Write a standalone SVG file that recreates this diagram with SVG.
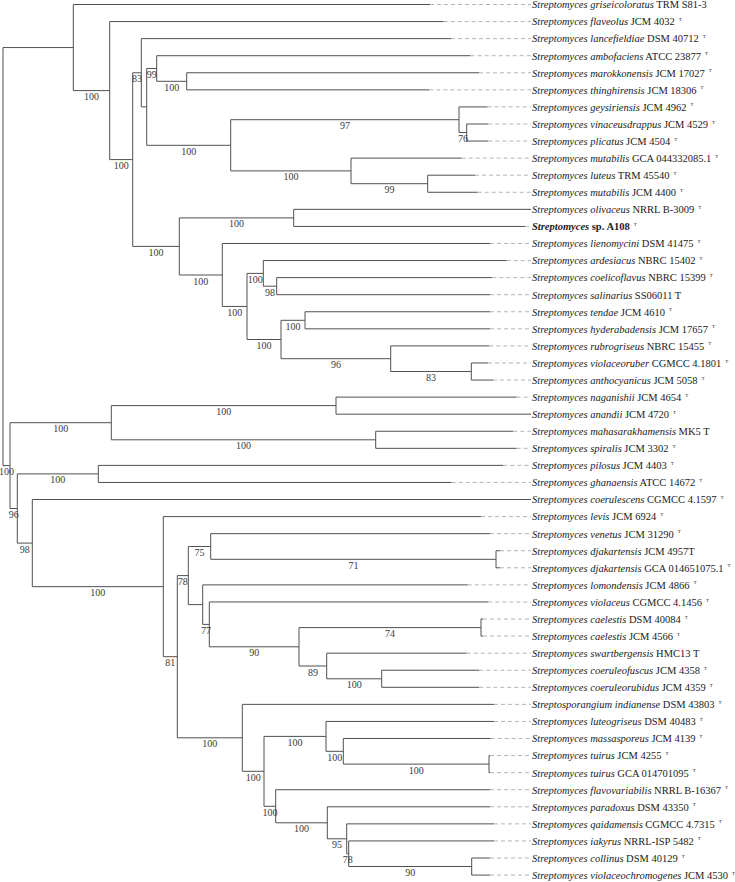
<svg xmlns="http://www.w3.org/2000/svg" width="735" height="882" viewBox="0 0 735 882">
<style>
.br{fill:none;stroke:#505050;stroke-width:1}
.dl{fill:none;stroke:#b4b4b4;stroke-width:1;stroke-dasharray:4 3}
.lf{font-family:"Liberation Serif","Times New Roman",serif;font-size:10.5px;fill:#1a1a1a}
.i{font-style:italic}
.b{font-weight:bold}
.sup{font-size:5px}
.bs{font-family:"Liberation Serif","Times New Roman",serif;font-size:10px;fill:#3a3a3a;text-anchor:middle}
</style>
<rect width="735" height="882" fill="#fff"/>
<g id="connectors">
<path class="br" d="M3,47.55V465.6M3,47.55H73.3M3,465.6H10"/>
<path class="br" d="M73.3,4.5V90.6M73.3,4.5H430M73.3,90.6H109.7"/>
<path class="br" d="M109.7,21.57V159.6M109.7,21.57H443.7M109.7,159.6H132.7"/>
<path class="br" d="M132.7,72.8V246.4H179.3M132.7,72.8H141.3"/>
<path class="br" d="M141.3,38.64V106.9M141.3,38.64H451M141.3,106.9H146.7"/>
<path class="br" d="M146.7,68.5V145.3M146.7,68.5H156.7M146.7,145.3H230.7"/>
<path class="br" d="M156.7,55.71V81.3M156.7,55.71H470.7M156.7,81.3H186.7"/>
<path class="br" d="M186.7,72.78V89.85M186.7,72.78H479M186.7,89.85H429.3"/>
<path class="br" d="M230.7,119.7V170.9M230.7,119.7H459M230.7,170.9H351"/>
<path class="br" d="M459,106.92V132.5M459,106.92H487.7M459,132.5H466.7"/>
<path class="br" d="M466.7,123.99V141.06M466.7,123.99H488.3M466.7,141.06H488.3"/>
<path class="br" d="M351,158.13V183.7M351,158.13H461.7M351,183.7H427.7"/>
<path class="br" d="M427.7,175.2V192.27M427.7,175.2H475M427.7,192.27H477.7"/>
<path class="br" d="M179.3,217.9V275M179.3,217.9H293.7M179.3,275H222.3"/>
<path class="br" d="M293.7,209.34V226.41M293.7,209.34H531M293.7,226.41H525"/>
<path class="br" d="M222.3,243.48V306.45M222.3,243.48H490M222.3,306.45H247"/>
<path class="br" d="M247,273.4V339.5M247,273.4H263.3M247,339.5H281"/>
<path class="br" d="M263.3,260.55V286.2M263.3,260.55H506.7M263.3,286.2H276.7"/>
<path class="br" d="M276.7,277.62V294.69M276.7,277.62H492.3M276.7,294.69H490"/>
<path class="br" d="M281,320.3V358.7M281,320.3H305M281,358.7H390.7"/>
<path class="br" d="M305,311.76V328.83M305,311.76H490M305,328.83H490"/>
<path class="br" d="M390.7,345.9V371.5M390.7,345.9H489.3M390.7,371.5H471.3"/>
<path class="br" d="M471.3,362.97V380.04M471.3,362.97H488M471.3,380.04H493"/>
<path class="br" d="M10,422.7V508.5M10,422.7H111.3M10,508.5H17.3"/>
<path class="br" d="M111.3,405.6V439.8M111.3,405.6H336M111.3,439.8H375.7"/>
<path class="br" d="M336,397.11V414.18M336,397.11H516.7M336,414.18H531"/>
<path class="br" d="M375.7,431.25V448.32M375.7,431.25H513.3M375.7,448.32H516.7"/>
<path class="br" d="M17.3,473.9V543.1M17.3,473.9H98.3M17.3,543.1H32.3"/>
<path class="br" d="M98.3,465.39V482.46M98.3,465.39H503.3M98.3,482.46H451.7"/>
<path class="br" d="M32.3,499.53V586.65M32.3,499.53H531M32.3,586.65H163.3"/>
<path class="br" d="M163.3,516.6V656.7M163.3,516.6H481M163.3,656.7H177.3"/>
<path class="br" d="M177.3,575.6V737.8M177.3,575.6H188.3M177.3,737.8H242.3"/>
<path class="br" d="M188.3,546.5V604.6M188.3,546.5H210.7M188.3,604.6H202.7"/>
<path class="br" d="M210.7,533.67V559.3M210.7,533.67H490M210.7,559.3H496"/>
<path class="br" d="M496,550.74V567.81M496,550.74H500M496,567.81H500"/>
<path class="br" d="M202.7,584.88V624.4M202.7,584.88H467.7M202.7,624.4H209.3"/>
<path class="br" d="M209.3,601.95V646.8M209.3,601.95H488.3M209.3,646.8H299"/>
<path class="br" d="M299,627.6V666M299,627.6H481M299,666H326.7"/>
<path class="br" d="M481,619.02V636.09M481,619.02H483M481,636.09H483"/>
<path class="br" d="M326.7,653.16V678.8M326.7,653.16H466.7M326.7,678.8H381.7"/>
<path class="br" d="M381.7,670.23V687.3M381.7,670.23H479.3M381.7,687.3H479.3"/>
<path class="br" d="M242.3,704.37V771.3M242.3,704.37H494M242.3,771.3H264"/>
<path class="br" d="M264,736.4V806.3M264,736.4H326M264,806.3H275.7"/>
<path class="br" d="M326,721.44V751.3M326,721.44H494M326,751.3H343.3"/>
<path class="br" d="M343.3,738.51V764.1M343.3,738.51H490.7M343.3,764.1H489"/>
<path class="br" d="M489,755.58V772.65M489,755.58H490M489,772.65H490"/>
<path class="br" d="M275.7,789.72V822.8M275.7,789.72H490M275.7,822.8H327.3"/>
<path class="br" d="M327.3,806.79V838.8M327.3,806.79H490M327.3,838.8H346.7"/>
<path class="br" d="M346.7,823.86V853.7M346.7,823.86H494M346.7,853.7H348.7"/>
<path class="br" d="M348.7,840.93V866.5M348.7,840.93H494M348.7,866.5H471.7"/>
<path class="br" d="M471.7,858V875.07M471.7,858H490M471.7,875.07H490"/>
<path class="dl" d="M430,4.5H531M443.7,21.57H531M451,38.64H531M470.7,55.71H531M479,72.78H531M429.3,89.85H531M487.7,106.92H531M488.3,123.99H531M488.3,141.06H531M461.7,158.13H531M475,175.2H531M477.7,192.27H531M525,226.41H531M490,243.48H531M506.7,260.55H531M492.3,277.62H531M490,294.69H531M490,311.76H531M490,328.83H531M489.3,345.9H531M488,362.97H531M493,380.04H531M516.7,397.11H531M513.3,431.25H531M516.7,448.32H531M503.3,465.39H531M451.7,482.46H531M481,516.6H531M490,533.67H531M500,550.74H531M500,567.81H531M467.7,584.88H531M488.3,601.95H531M483,619.02H531M483,636.09H531M466.7,653.16H531M479.3,670.23H531M479.3,687.3H531M494,704.37H531M494,721.44H531M490.7,738.51H531M490,755.58H531M490,772.65H531M490,789.72H531M490,806.79H531M494,823.86H531M494,840.93H531M490,858H531M490,875.07H531"/>
</g>
<g id="support">
<text class="bs" x="91.5" y="100.1">100</text>
<text class="bs" x="121.2" y="169.1">100</text>
<text class="bs" x="137" y="82.3">83</text>
<text class="bs" x="151.7" y="78">99</text>
<text class="bs" x="171.7" y="90.8">100</text>
<text class="bs" x="188.7" y="154.8">100</text>
<text class="bs" x="344.9" y="129.2">97</text>
<text class="bs" x="462.9" y="142">76</text>
<text class="bs" x="290.9" y="180.4">100</text>
<text class="bs" x="389.4" y="193.2">99</text>
<text class="bs" x="156" y="255.9">100</text>
<text class="bs" x="236.5" y="227.4">100</text>
<text class="bs" x="200.8" y="284.5">100</text>
<text class="bs" x="234.7" y="315.9">100</text>
<text class="bs" x="255.2" y="282.9">100</text>
<text class="bs" x="270" y="295.7">98</text>
<text class="bs" x="264" y="349">100</text>
<text class="bs" x="293" y="329.8">100</text>
<text class="bs" x="335.9" y="368.2">96</text>
<text class="bs" x="431" y="381">83</text>
<text class="bs" x="6.5" y="475.1">100</text>
<text class="bs" x="60.7" y="432.2">100</text>
<text class="bs" x="223.7" y="415.1">100</text>
<text class="bs" x="243.5" y="449.3">100</text>
<text class="bs" x="13.7" y="518">96</text>
<text class="bs" x="57.8" y="483.4">100</text>
<text class="bs" x="24.8" y="552.6">98</text>
<text class="bs" x="97.8" y="596.2">100</text>
<text class="bs" x="170.3" y="666.2">81</text>
<text class="bs" x="182.8" y="585.1">78</text>
<text class="bs" x="199.5" y="556">75</text>
<text class="bs" x="353.4" y="568.8">71</text>
<text class="bs" x="206" y="633.9">77</text>
<text class="bs" x="254.2" y="656.3">90</text>
<text class="bs" x="390" y="637.1">74</text>
<text class="bs" x="312.9" y="675.5">89</text>
<text class="bs" x="354.2" y="688.3">100</text>
<text class="bs" x="209.8" y="747.3">100</text>
<text class="bs" x="253.2" y="780.8">100</text>
<text class="bs" x="295" y="745.9">100</text>
<text class="bs" x="334.7" y="760.8">100</text>
<text class="bs" x="416.2" y="773.6">100</text>
<text class="bs" x="269.9" y="815.8">100</text>
<text class="bs" x="301.5" y="832.3">100</text>
<text class="bs" x="337" y="848.3">95</text>
<text class="bs" x="347.7" y="863.2">78</text>
<text class="bs" x="410.2" y="876">90</text>
</g>
<g id="leaf1"><text class="lf" x="532" y="8.3"><tspan class="i">Streptomyces griseicoloratus</tspan> TRM S81-3</text></g>
<g id="leaf2"><text class="lf" x="532" y="25.4"><tspan class="i">Streptomyces flaveolus</tspan> JCM 4032<tspan class="sup" dx="4" dy="-4.3">T</tspan></text></g>
<g id="leaf3"><text class="lf" x="532" y="42.4"><tspan class="i">Streptomyces lancefieldiae</tspan> DSM 40712<tspan class="sup" dx="4" dy="-4.3">T</tspan></text></g>
<g id="leaf4"><text class="lf" x="532" y="59.5"><tspan class="i">Streptomyces ambofaciens</tspan> ATCC 23877<tspan class="sup" dx="4" dy="-4.3">T</tspan></text></g>
<g id="leaf5"><text class="lf" x="532" y="76.6"><tspan class="i">Streptomyces marokkonensis</tspan> JCM 17027<tspan class="sup" dx="4" dy="-4.3">T</tspan></text></g>
<g id="leaf6"><text class="lf" x="532" y="93.7"><tspan class="i">Streptomyces thinghirensis</tspan> JCM 18306<tspan class="sup" dx="4" dy="-4.3">T</tspan></text></g>
<g id="leaf7"><text class="lf" x="532" y="110.7"><tspan class="i">Streptomyces geysiriensis</tspan> JCM 4962<tspan class="sup" dx="4" dy="-4.3">T</tspan></text></g>
<g id="leaf8"><text class="lf" x="532" y="127.8"><tspan class="i">Streptomyces vinaceusdrappus</tspan> JCM 4529<tspan class="sup" dx="4" dy="-4.3">T</tspan></text></g>
<g id="leaf9"><text class="lf" x="532" y="144.9"><tspan class="i">Streptomyces plicatus</tspan> JCM 4504<tspan class="sup" dx="4" dy="-4.3">T</tspan></text></g>
<g id="leaf10"><text class="lf" x="532" y="161.9"><tspan class="i">Streptomyces mutabilis</tspan> GCA 044332085.1<tspan class="sup" dx="4" dy="-4.3">T</tspan></text></g>
<g id="leaf11"><text class="lf" x="532" y="179"><tspan class="i">Streptomyces luteus</tspan> TRM 45540<tspan class="sup" dx="4" dy="-4.3">T</tspan></text></g>
<g id="leaf12"><text class="lf" x="532" y="196.1"><tspan class="i">Streptomyces mutabilis</tspan> JCM 4400<tspan class="sup" dx="4" dy="-4.3">T</tspan></text></g>
<g id="leaf13"><text class="lf" x="532" y="213.1"><tspan class="i">Streptomyces olivaceus</tspan> NRRL B-3009<tspan class="sup" dx="4" dy="-4.3">T</tspan></text></g>
<g id="leaf14"><text class="lf b" x="532" y="230.2"><tspan class="i">Streptomyces</tspan> sp. A108<tspan class="sup" dx="4" dy="-4.3" font-weight="normal">T</tspan></text></g>
<g id="leaf15"><text class="lf" x="532" y="247.3"><tspan class="i">Streptomyces lienomycini</tspan> DSM 41475<tspan class="sup" dx="4" dy="-4.3">T</tspan></text></g>
<g id="leaf16"><text class="lf" x="532" y="264.4"><tspan class="i">Streptomyces ardesiacus</tspan> NBRC 15402<tspan class="sup" dx="4" dy="-4.3">T</tspan></text></g>
<g id="leaf17"><text class="lf" x="532" y="281.4"><tspan class="i">Streptomyces coelicoflavus</tspan> NBRC 15399<tspan class="sup" dx="4" dy="-4.3">T</tspan></text></g>
<g id="leaf18"><text class="lf" x="532" y="298.5"><tspan class="i">Streptomyces salinarius</tspan> SS06011 T</text></g>
<g id="leaf19"><text class="lf" x="532" y="315.6"><tspan class="i">Streptomyces tendae</tspan> JCM 4610<tspan class="sup" dx="4" dy="-4.3">T</tspan></text></g>
<g id="leaf20"><text class="lf" x="532" y="332.6"><tspan class="i">Streptomyces hyderabadensis</tspan> JCM 17657<tspan class="sup" dx="4" dy="-4.3">T</tspan></text></g>
<g id="leaf21"><text class="lf" x="532" y="349.7"><tspan class="i">Streptomyces rubrogriseus</tspan> NBRC 15455<tspan class="sup" dx="4" dy="-4.3">T</tspan></text></g>
<g id="leaf22"><text class="lf" x="532" y="366.8"><tspan class="i">Streptomyces violaceoruber</tspan> CGMCC 4.1801<tspan class="sup" dx="4" dy="-4.3">T</tspan></text></g>
<g id="leaf23"><text class="lf" x="532" y="383.8"><tspan class="i">Streptomyces anthocyanicus</tspan> JCM 5058<tspan class="sup" dx="4" dy="-4.3">T</tspan></text></g>
<g id="leaf24"><text class="lf" x="532" y="400.9"><tspan class="i">Streptomyces naganishii</tspan> JCM 4654<tspan class="sup" dx="4" dy="-4.3">T</tspan></text></g>
<g id="leaf25"><text class="lf" x="532" y="418"><tspan class="i">Streptomyces anandii</tspan> JCM 4720<tspan class="sup" dx="4" dy="-4.3">T</tspan></text></g>
<g id="leaf26"><text class="lf" x="532" y="435.1"><tspan class="i">Streptomyces mahasarakhamensis</tspan> MK5 T</text></g>
<g id="leaf27"><text class="lf" x="532" y="452.1"><tspan class="i">Streptomyces spiralis</tspan> JCM 3302<tspan class="sup" dx="4" dy="-4.3">T</tspan></text></g>
<g id="leaf28"><text class="lf" x="532" y="469.2"><tspan class="i">Streptomyces pilosus</tspan> JCM 4403<tspan class="sup" dx="4" dy="-4.3">T</tspan></text></g>
<g id="leaf29"><text class="lf" x="532" y="486.3"><tspan class="i">Streptomyces ghanaensis</tspan> ATCC 14672<tspan class="sup" dx="4" dy="-4.3">T</tspan></text></g>
<g id="leaf30"><text class="lf" x="532" y="503.3"><tspan class="i">Streptomyces coerulescens</tspan> CGMCC 4.1597<tspan class="sup" dx="4" dy="-4.3">T</tspan></text></g>
<g id="leaf31"><text class="lf" x="532" y="520.4"><tspan class="i">Streptomyces levis</tspan> JCM 6924<tspan class="sup" dx="4" dy="-4.3">T</tspan></text></g>
<g id="leaf32"><text class="lf" x="532" y="537.5"><tspan class="i">Streptomyces venetus</tspan> JCM 31290<tspan class="sup" dx="4" dy="-4.3">T</tspan></text></g>
<g id="leaf33"><text class="lf" x="532" y="554.5"><tspan class="i">Streptomyces djakartensis</tspan> JCM 4957T</text></g>
<g id="leaf34"><text class="lf" x="532" y="571.6"><tspan class="i">Streptomyces djakartensis</tspan> GCA 014651075.1<tspan class="sup" dx="4" dy="-4.3">T</tspan></text></g>
<g id="leaf35"><text class="lf" x="532" y="588.7"><tspan class="i">Streptomyces lomondensis</tspan> JCM 4866<tspan class="sup" dx="4" dy="-4.3">T</tspan></text></g>
<g id="leaf36"><text class="lf" x="532" y="605.8"><tspan class="i">Streptomyces violaceus</tspan> CGMCC 4.1456<tspan class="sup" dx="4" dy="-4.3">T</tspan></text></g>
<g id="leaf37"><text class="lf" x="532" y="622.8"><tspan class="i">Streptomyces caelestis</tspan> DSM 40084<tspan class="sup" dx="4" dy="-4.3">T</tspan></text></g>
<g id="leaf38"><text class="lf" x="532" y="639.9"><tspan class="i">Streptomyces caelestis</tspan> JCM 4566<tspan class="sup" dx="4" dy="-4.3">T</tspan></text></g>
<g id="leaf39"><text class="lf" x="532" y="657"><tspan class="i">Streptomyces swartbergensis</tspan> HMC13 T</text></g>
<g id="leaf40"><text class="lf" x="532" y="674"><tspan class="i">Streptomyces coeruleofuscus</tspan> JCM 4358<tspan class="sup" dx="4" dy="-4.3">T</tspan></text></g>
<g id="leaf41"><text class="lf" x="532" y="691.1"><tspan class="i">Streptomyces coeruleorubidus</tspan> JCM 4359<tspan class="sup" dx="4" dy="-4.3">T</tspan></text></g>
<g id="leaf42"><text class="lf" x="532" y="708.2"><tspan class="i">Streptosporangium indianense</tspan> DSM 43803<tspan class="sup" dx="4" dy="-4.3">T</tspan></text></g>
<g id="leaf43"><text class="lf" x="532" y="725.2"><tspan class="i">Streptomyces luteogriseus</tspan> DSM 40483<tspan class="sup" dx="4" dy="-4.3">T</tspan></text></g>
<g id="leaf44"><text class="lf" x="532" y="742.3"><tspan class="i">Streptomyces massasporeus</tspan> JCM 4139<tspan class="sup" dx="4" dy="-4.3">T</tspan></text></g>
<g id="leaf45"><text class="lf" x="532" y="759.4"><tspan class="i">Streptomyces tuirus</tspan> JCM 4255<tspan class="sup" dx="4" dy="-4.3">T</tspan></text></g>
<g id="leaf46"><text class="lf" x="532" y="776.5"><tspan class="i">Streptomyces tuirus</tspan> GCA 014701095<tspan class="sup" dx="4" dy="-4.3">T</tspan></text></g>
<g id="leaf47"><text class="lf" x="532" y="793.5"><tspan class="i">Streptomyces flavovariabilis</tspan> NRRL B-16367<tspan class="sup" dx="4" dy="-4.3">T</tspan></text></g>
<g id="leaf48"><text class="lf" x="532" y="810.6"><tspan class="i">Streptomyces paradoxus</tspan> DSM 43350<tspan class="sup" dx="4" dy="-4.3">T</tspan></text></g>
<g id="leaf49"><text class="lf" x="532" y="827.7"><tspan class="i">Streptomyces qaidamensis</tspan> CGMCC 4.7315<tspan class="sup" dx="4" dy="-4.3">T</tspan></text></g>
<g id="leaf50"><text class="lf" x="532" y="844.7"><tspan class="i">Streptomyces iakyrus</tspan> NRRL-ISP 5482<tspan class="sup" dx="4" dy="-4.3">T</tspan></text></g>
<g id="leaf51"><text class="lf" x="532" y="861.8"><tspan class="i">Streptomyces collinus</tspan> DSM 40129<tspan class="sup" dx="4" dy="-4.3">T</tspan></text></g>
<g id="leaf52"><text class="lf" x="532" y="878.9"><tspan class="i">Streptomyces violaceochromogenes</tspan> JCM 4530<tspan class="sup" dx="4" dy="-4.3">T</tspan></text></g>
</svg>
